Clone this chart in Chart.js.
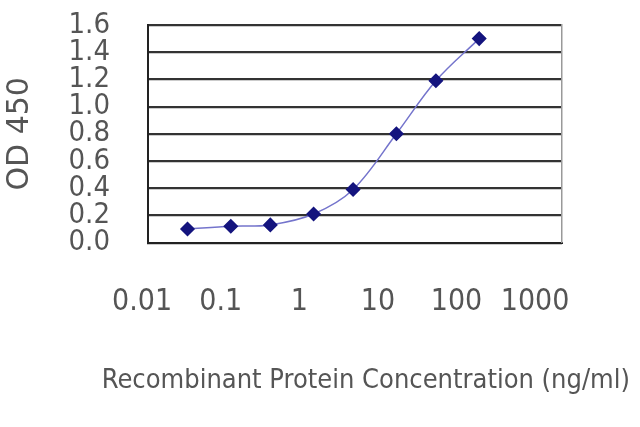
<!DOCTYPE html>
<html lang="en">
<head>
  <meta charset="UTF-8" />
  <title>OD 450 vs concentration</title>
  <script src="https://cdn.jsdelivr.net/npm/chart.js"></script>
  <style>
    body {
      margin: 0;
      background: #fff;
    }
    #chart {
      display: block;
    }
  </style>
</head>
<body>

<canvas id="chart" width="640" height="427"></canvas>

<script>
  // values
  const concentrations = [0.03, 0.1, 0.3, 1, 3, 10, 30, 100];
  const odValues = [0.1, 0.12, 0.13, 0.21, 0.39, 0.8, 1.19, 1.5];
  const xTickValues = [0.01, 0.1, 1, 10, 100, 1000];
  const xTickLabels = ['0.01', '0.1', '1', '10', '100', '1000'];
  // in the original the decade labels sit a bit tighter than the decades,
  // so they get their own log axis with a slightly wider range
  const labelAxisMin = 0.0119;
  const labelAxisMax = 2200;

  const condensed = '"DejaVu Sans Condensed", "Liberation Sans Narrow", sans-serif';
  const regular = '"DejaVu Sans", sans-serif';
  const textColor = '#555';

  const points = concentrations.map((c, i) => ({ x: c, y: odValues[i] }));

  new Chart(document.getElementById('chart'), {
    type: 'scatter',
    data: {
      datasets: [{
        data: points,
        showLine: true,
        borderColor: '#7474cc',
        borderWidth: 1.5,
        tension: 0.35,
        pointStyle: 'rectRot',
        pointRadius: 6.5,
        pointBackgroundColor: '#14147e',
        pointBorderColor: '#14147e'
      }]
    },
    options: {
      responsive: false,
      animation: false,
      layout: { padding: { top: 25, right: 10, bottom: 10, left: 0 } },
      plugins: {
        legend: { display: false },
        tooltip: { enabled: false },
        // x axis caption is wider than the plot, so it goes in the title box
        title: {
          display: true,
          position: 'bottom',
          align: 'end',
          text: 'Recombinant Protein Concentration (ng/ml)',
          color: textColor,
          font: { family: condensed, size: 27, weight: 'normal' },
          padding: { top: 0, bottom: 20 }
        }
      },
      scales: {
        x: {
          type: 'logarithmic',
          min: 0.01,
          max: 1000,
          afterFit: scale => { scale.height = 0; },
          ticks: { display: false },
          grid: {
            drawTicks: false,
            color: 'rgba(0,0,0,0)'
          },
          border: { color: '#222', width: 2 }
        },
        xLabels: {
          type: 'logarithmic',
          position: 'bottom',
          min: labelAxisMin,
          max: labelAxisMax,
          afterBuildTicks: scale => {
            scale.ticks = xTickValues.map(v => ({ value: v }));
          },
          afterFit: scale => { scale.height = 122; },
          ticks: {
            autoSkip: false,
            maxRotation: 0,
            padding: 34,
            color: textColor,
            font: { family: condensed, size: 30 },
            callback: (v) => {
              const i = xTickValues.indexOf(v);
              return i >= 0 ? xTickLabels[i] : '';
            }
          },
          grid: { display: false },
          border: { display: false }
        },
        y: {
          min: 0,
          max: 1.6,
          afterFit: scale => { scale.width = 148; },
          ticks: {
            stepSize: 0.2,
            autoSkip: false,
            padding: 0,
            color: textColor,
            font: { family: condensed, size: 29, lineHeight: 1 },
            callback: v => v.toFixed(1)
          },
          grid: {
            drawTicks: true,
            tickLength: 38,
            tickColor: 'rgba(0,0,0,0)',
            color: '#333',
            lineWidth: 2.2
          },
          border: { color: '#222', width: 2 },
          title: {
            display: true,
            text: 'OD 450',
            color: textColor,
            font: { family: regular, size: 30 },
            padding: { top: 2, bottom: 0 }
          }
        },
        // empty right axis: only its border, the grey frame line on the right
        yRight: {
          position: 'right',
          min: 0,
          max: 1.6,
          afterFit: scale => { scale.width = 68; },
          ticks: { display: false },
          grid: { drawOnChartArea: false, drawTicks: false },
          border: { color: '#999', width: 1.5 }
        }
      }
    }
  });
</script>

</body>
</html>
